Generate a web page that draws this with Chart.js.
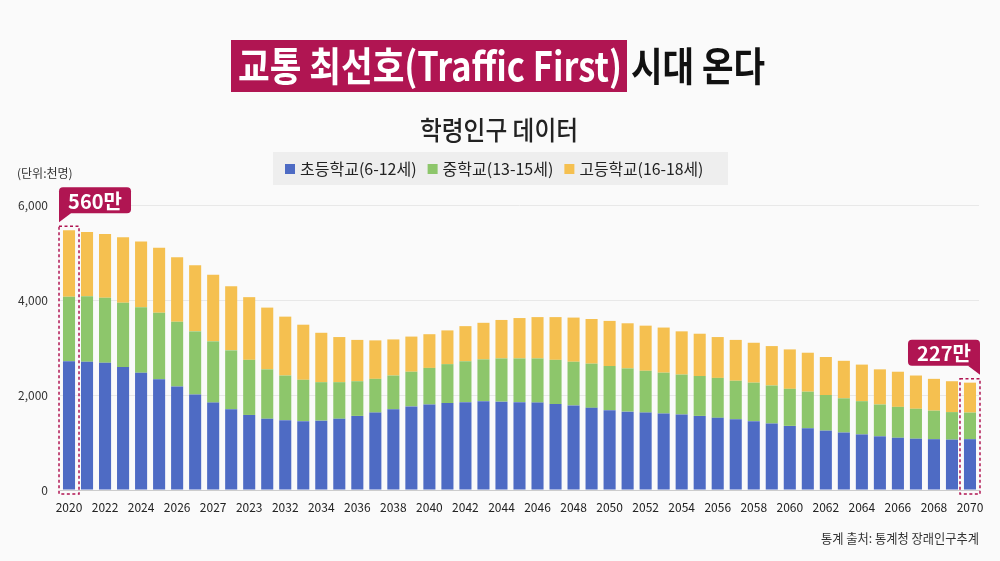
<!DOCTYPE html>
<html>
<head>
<meta charset="utf-8">
<script src="https://cdn.jsdelivr.net/npm/chart.js@4.4.1/dist/chart.umd.min.js"></script>
<style>
    html, body { margin: 0; padding: 0; background: #fafafa; }
</style>
</head>
<body>
<canvas id="chart" width="1000" height="561"></canvas>
<script>
// 연도 (2020 ~ 2070)
var years = [2020, 2021, 2022, 2023, 2024, 2025, 2026, 2027, 2028, 2029,
    2030, 2031, 2032, 2033, 2034, 2035, 2036, 2037, 2038, 2039,
    2040, 2041, 2042, 2043, 2044, 2045, 2046, 2047, 2048, 2049,
    2050, 2051, 2052, 2053, 2054, 2055, 2056, 2057, 2058, 2059,
    2060, 2061, 2062, 2063, 2064, 2065, 2066, 2067, 2068, 2069, 2070];

// 축에 표시된 라벨 (원본 그대로, 2년 간격)
var tickLabels = ['2020', '2022', '2024', '2026', '2027', '2023', '2032', '2034', '2036',
    '2038', '2040', '2042', '2044', '2046', '2048', '2050', '2052', '2054', '2056',
    '2058', '2060', '2062', '2064', '2066', '2068', '2070'];

// 단위: 천명
var elementary = [2710, 2700, 2680, 2590, 2470, 2330, 2180, 2010, 1840, 1700,
    1580, 1500, 1470, 1450, 1460, 1500, 1560, 1630, 1700, 1760,
    1800, 1830, 1850, 1870, 1860, 1850, 1840, 1810, 1780, 1730,
    1680, 1650, 1630, 1610, 1590, 1560, 1520, 1490, 1450, 1400,
    1350, 1300, 1250, 1210, 1170, 1130, 1100, 1080, 1070, 1060, 1070];
var middle = [1360, 1380, 1370, 1350, 1380, 1400, 1360, 1330, 1290, 1240,
    1160, 1040, 940, 870, 810, 770, 730, 710, 710, 730,
    770, 820, 860, 880, 910, 920, 930, 930, 920, 930,
    930, 910, 880, 860, 840, 840, 840, 810, 810, 800,
    780, 770, 750, 720, 700, 670, 650, 630, 600, 580, 560];
var high = [1400, 1350, 1340, 1380, 1380, 1370, 1360, 1390, 1400, 1350,
    1320, 1300, 1240, 1160, 1040, 950, 870, 810, 760, 740,
    710, 710, 740, 770, 810, 850, 870, 900, 930, 940,
    950, 950, 950, 950, 910, 890, 860, 860, 840, 830,
    830, 820, 800, 790, 770, 740, 740, 700, 670, 650, 630];

var seriesNames = ['초등학교(6-12세)', '중학교(13-15세)', '고등학교(16-18세)'];
var seriesColors = ['#4e6bc4', '#8dc66b', '#f5c050'];

var yTicks = [0, 2000, 4000, 6000];
var callouts = [{ index: 0, text: '560만' }, { index: 50, text: '227만' }];

var FONT = "'Noto Sans CJK KR', 'Noto Sans', sans-serif";
var ACCENT = '#b01552';

Chart.defaults.font.family = FONT;

// 지정한 폭보다 넓으면 가로로 줄여서 그림
function fitText(ctx, text, x, y, maxWidth, align) {
    var w = ctx.measureText(text).width;
    var s = w > maxWidth ? maxWidth / w : 1;
    ctx.save();
    ctx.translate(x, y);
    ctx.scale(s, 1);
    ctx.textAlign = align || 'left';
    ctx.fillText(text, 0, 0);
    ctx.restore();
    return w * s;
}

function roundRect(ctx, x, y, w, h, r) {
    ctx.beginPath();
    ctx.moveTo(x + r, y);
    ctx.lineTo(x + w - r, y);
    ctx.quadraticCurveTo(x + w, y, x + w, y + r);
    ctx.lineTo(x + w, y + h - r);
    ctx.quadraticCurveTo(x + w, y + h, x + w - r, y + h);
    ctx.lineTo(x + r, y + h);
    ctx.quadraticCurveTo(x, y + h, x, y + h - r);
    ctx.lineTo(x, y + r);
    ctx.quadraticCurveTo(x, y, x + r, y);
    ctx.closePath();
}

var decor = {
    id: 'decor',
    beforeDraw: function(chart) {
        var ctx = chart.ctx;
        ctx.save();
        ctx.fillStyle = '#fafafa';
        ctx.fillRect(0, 0, chart.width, chart.height);

        // 제목
        ctx.fillStyle = ACCENT;
        ctx.fillRect(231, 40, 396, 52);
        ctx.font = 'bold 40px ' + FONT;
        ctx.textBaseline = 'middle';
        ctx.fillStyle = '#ffffff';
        fitText(ctx, '교통 최선호(Traffic First)', 238, 66, 384);
        ctx.fillStyle = '#111111';
        fitText(ctx, '시대 온다', 631, 66, 134);

        // 부제
        ctx.font = '500 26px ' + FONT;
        ctx.fillStyle = '#222222';
        fitText(ctx, '학령인구 데이터', 499, 130, 158, 'center');

        // 범례
        ctx.fillStyle = '#eeeeee';
        ctx.fillRect(273, 152, 455, 33);
        ctx.font = '16px ' + FONT;
        var x = 285;
        chart.data.datasets.forEach(function(ds, i) {
            ctx.fillStyle = ds.backgroundColor;
            ctx.fillRect(x, 164, 10, 10);
            x += 15;
            ctx.fillStyle = '#222222';
            x += fitText(ctx, ds.label, x, 169, 124) + 11;
        });

        // 단위
        ctx.font = '12px ' + FONT;
        ctx.fillStyle = '#333333';
        ctx.fillText('(단위:천명)', 17, 173);
        ctx.restore();
    },
    afterDraw: function(chart) {
        var ctx = chart.ctx;
        var area = chart.chartArea;
        var topMeta = chart.getDatasetMeta(chart.data.datasets.length - 1);
        ctx.save();
        callouts.forEach(function(c, k) {
            var bar = topMeta.data[c.index];
            var left = bar.x - 10, right = bar.x + 10;
            var top = bar.y - 4, bottom = area.bottom + 4;

            // 점선 박스
            ctx.strokeStyle = ACCENT;
            ctx.lineWidth = 1.5;
            ctx.setLineDash([3, 2.5]);
            ctx.strokeRect(left, top, right - left, bottom - top);
            ctx.setLineDash([]);

            // 말풍선
            var bw = 72, bh = 26;
            var by = top - 13 - bh;
            var bx = k === 0 ? left : right - bw;
            ctx.fillStyle = ACCENT;
            roundRect(ctx, bx, by, bw, bh, 4);
            ctx.fill();
            ctx.beginPath();
            if (k === 0) {
                ctx.moveTo(bx, by + bh - 4);
                ctx.lineTo(bx + 12, by + bh);
                ctx.lineTo(bx, by + bh + 9);
            } else {
                ctx.moveTo(bx + bw, by + bh - 4);
                ctx.lineTo(bx + bw - 12, by + bh);
                ctx.lineTo(bx + bw, by + bh + 9);
            }
            ctx.closePath();
            ctx.fill();
            ctx.fillStyle = '#ffffff';
            ctx.font = 'bold 20px ' + FONT;
            ctx.textBaseline = 'middle';
            fitText(ctx, c.text, bx + bw / 2, by + bh / 2 + 1, 60, 'center');
        });

        // 출처
        ctx.font = '13px ' + FONT;
        ctx.fillStyle = '#333333';
        ctx.textBaseline = 'middle';
        fitText(ctx, '통계 출처: 통계청 장래인구추계', 979, 538, 158, 'right');
        ctx.restore();
    }
};

var values = [elementary, middle, high];

new Chart(document.getElementById('chart'), {
    type: 'bar',
    data: {
        labels: years,
        datasets: values.map(function(v, i) {
            return {
                label: seriesNames[i],
                data: v,
                backgroundColor: seriesColors[i],
                borderWidth: 0,
                categoryPercentage: 0.67,
                barPercentage: 1.0
            };
        })
    },
    options: {
        responsive: false,
        animation: false,
        layout: { padding: { top: 205, right: 21, left: 0, bottom: 0 } },
        plugins: {
            legend: { display: false },
            title: { display: false },
            tooltip: { enabled: false }
        },
        scales: {
            x: {
                stacked: true,
                grid: { display: false, drawTicks: false },
                border: { display: true, color: '#cccccc', width: 1 },
                ticks: {
                    autoSkip: false,
                    maxRotation: 0,
                    padding: 10,
                    color: '#222222',
                    font: { size: 12 },
                    callback: function(value, index) {
                        return index % 2 === 0 ? tickLabels[index / 2] : '';
                    }
                },
                afterFit: function(scale) { scale.height = 71; }
            },
            y: {
                stacked: true,
                min: yTicks[0],
                max: yTicks[yTicks.length - 1],
                grid: { color: '#e8e8e8', drawTicks: false },
                border: { display: false },
                afterBuildTicks: function(scale) {
                    scale.ticks = yTicks.map(function(v) { return { value: v }; });
                },
                ticks: {
                    padding: 12,
                    color: '#333333',
                    font: { size: 12 },
                    callback: function(value) { return value.toLocaleString('en-US'); }
                },
                afterFit: function(scale) { scale.width = 60; }
            }
        }
    },
    plugins: [decor]
});
</script>
</body>
</html>
